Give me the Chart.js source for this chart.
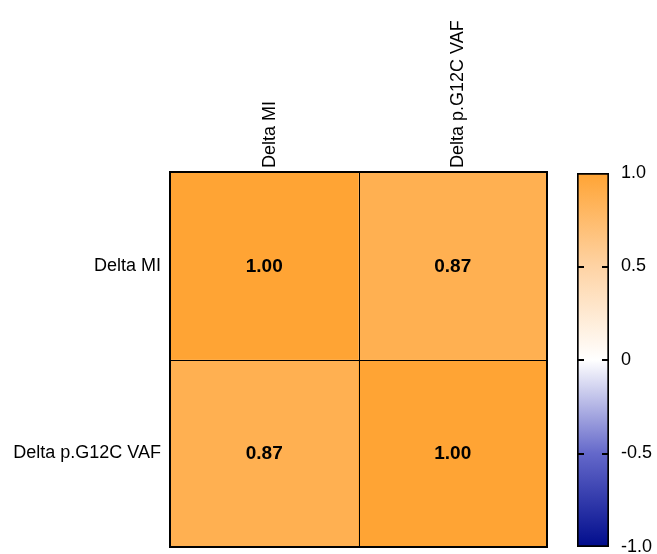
<!DOCTYPE html>
<html><head><meta charset="utf-8">
<script src="https://cdn.jsdelivr.net/npm/chart.js@4/dist/chart.umd.min.js"></script>
<style>
html,body{margin:0;padding:0;background:#fff;overflow:hidden;width:657px;height:554px}
#heat{position:absolute;left:0;top:0}
#scale{position:absolute;left:557px;top:0}
</style></head><body>
<canvas id="heat" width="657" height="554"></canvas>
<canvas id="scale" width="100" height="620"></canvas>
<script>
// Correlation matrix (rows top to bottom, columns left to right)
const variables = ['Delta MI', 'Delta p.G12C VAF'];
const rowDeltaMI = [1.00, 0.87];
const rowDeltaVAF = [0.87, 1.00];

// Colour scale
const scaleTicks = [-1, -0.5, 0, 0.5, 1];
const scaleTickLabels = ['-1.0', '-0.5', '0', '0.5', '1.0'];
const stopValues = [-1, -0.5, 0, 0.5, 1];
const stopColors = ['#000c8c', '#6468ca', '#ffffff', '#fed3a4', '#ffa434'];

const FONT = "'Liberation Sans', Arial, Helvetica, sans-serif";

function hexToRgb(h) {
  const n = parseInt(h.slice(1), 16);
  return [(n >> 16) & 255, (n >> 8) & 255, n & 255];
}
function colorFor(v) {
  for (let i = 0; i < stopValues.length - 1; i++) {
    if (v <= stopValues[i + 1]) {
      const t = (v - stopValues[i]) / (stopValues[i + 1] - stopValues[i]);
      const a = hexToRgb(stopColors[i]), b = hexToRgb(stopColors[i + 1]);
      const c = a.map((x, k) => Math.round(x + (b[k] - x) * t));
      return `rgb(${c[0]},${c[1]},${c[2]})`;
    }
  }
  return stopColors[stopColors.length - 1];
}

const rows = [rowDeltaMI, rowDeltaVAF];
const n = variables.length;

const datasets = rows.map((vals, r) => ({
  label: variables[r],
  values: vals,
  data: vals.map(() => [n - 1 - r, n - r]),
  backgroundColor: vals.map(colorFor),
  borderWidth: 0,
  barPercentage: 1,
  categoryPercentage: 1,
  grouped: false
}));

// Cell values, the inner cell dividers and the outer frame
const cellLabels = {
  id: 'cellLabels',
  afterDatasetsDraw(chart) {
    const ctx = chart.ctx;
    const a = chart.chartArea;
    const xs = chart.scales.x, ys = chart.scales.y;
    ctx.save();
    ctx.strokeStyle = '#000';
    ctx.lineWidth = 1;
    ctx.beginPath();
    for (let i = 1; i < n; i++) {
      const px = Math.round((xs.getPixelForValue(i - 1) + xs.getPixelForValue(i)) / 2) + 0.5;
      ctx.moveTo(px, a.top); ctx.lineTo(px, a.bottom);
      const py = Math.round(ys.getPixelForValue(i)) + 0.5;
      ctx.moveTo(a.left, py); ctx.lineTo(a.right, py);
    }
    ctx.stroke();
    ctx.lineWidth = 2;
    ctx.strokeRect(a.left, a.top, a.right - a.left, a.bottom - a.top);

    ctx.font = `bold 19px ${FONT}`;
    ctx.fillStyle = '#000';
    ctx.textAlign = 'center';
    ctx.textBaseline = 'middle';
    chart.data.datasets.forEach((ds, di) => {
      chart.getDatasetMeta(di).data.forEach((el, i) => {
        ctx.fillText(ds.values[i].toFixed(2), el.x, (el.y + el.base) / 2 + 1);
      });
    });
    ctx.restore();
  }
};

new Chart(document.getElementById('heat'), {
  type: 'bar',
  data: {labels: variables, datasets},
  options: {
    responsive: false,
    animation: false,
    layout: {padding: {top: 0, right: 110, bottom: 7, left: 0}},
    plugins: {legend: {display: false}, tooltip: {enabled: false}},
    scales: {
      x: {
        type: 'category',
        position: 'top',
        grid: {display: false, drawTicks: false},
        border: {display: false},
        ticks: {
          minRotation: 90, maxRotation: 90, autoSkip: false,
          color: '#000', padding: 4, labelOffset: 27,
          font: {family: FONT, size: 18}
        },
        afterFit(s) { s.height = 172; s.paddingLeft = 0; s.paddingRight = 0; }
      },
      y: {
        type: 'linear',
        min: 0, max: n,
        grid: {display: false, drawTicks: false},
        border: {display: false},
        afterBuildTicks(s) {
          s.ticks = variables.map((_, i) => ({value: n - 1 - i + 0.5}));
        },
        ticks: {
          color: '#000', padding: 9,
          font: {family: FONT, size: 18},
          callback: (v) => variables[n - 1 - Math.floor(v)]
        },
        afterFit(s) { s.width = 170; s.paddingTop = 0; s.paddingBottom = 0; }
      }
    }
  },
  plugins: [cellLabels]
});

// Colour bar with inward tick marks on both edges
const barTicks = {
  id: 'barTicks',
  afterDatasetsDraw(chart) {
    const ctx = chart.ctx;
    const a = chart.chartArea;
    const y = chart.scales.y;
    ctx.save();
    ctx.strokeStyle = '#000';
    ctx.lineWidth = 2;
    scaleTicks.slice(1, -1).forEach(v => {
      const py = Math.round(y.getPixelForValue(v));
      ctx.beginPath();
      ctx.moveTo(a.left, py); ctx.lineTo(a.left + 7, py);
      ctx.moveTo(a.right - 7, py); ctx.lineTo(a.right, py);
      ctx.stroke();
    });
    ctx.restore();
  }
};

new Chart(document.getElementById('scale'), {
  type: 'bar',
  data: {
    labels: ['r'],
    datasets: [{
      data: [[scaleTicks[0], scaleTicks[scaleTicks.length - 1]]],
      backgroundColor(c) {
        const chart = c.chart;
        if (!chart.chartArea) return stopColors[0];
        const y = chart.scales.y;
        const g = chart.ctx.createLinearGradient(0, y.getPixelForValue(-1), 0, y.getPixelForValue(1));
        stopValues.forEach((v, i) => g.addColorStop((v + 1) / 2, stopColors[i]));
        return g;
      },
      borderColor: '#000',
      borderWidth: 2,
      borderSkipped: false,
      barPercentage: 1,
      categoryPercentage: 1
    }]
  },
  options: {
    responsive: false,
    animation: false,
    layout: {padding: {top: 173, right: 0, bottom: 73, left: 20}},
    plugins: {legend: {display: false}, tooltip: {enabled: false}},
    scales: {
      x: {display: false},
      y: {
        position: 'right',
        min: -1, max: 1,
        grid: {display: false, drawTicks: false},
        border: {display: false},
        afterBuildTicks(s) { s.ticks = scaleTicks.map(v => ({value: v})); },
        ticks: {
          color: '#000', padding: 12,
          font: {family: FONT, size: 18},
          callback: (v) => scaleTickLabels[scaleTicks.indexOf(v)]
        },
        afterFit(s) { s.width = 48; s.paddingTop = 0; s.paddingBottom = 0; }
      }
    }
  },
  plugins: [barTicks]
});
</script>
</body></html>
